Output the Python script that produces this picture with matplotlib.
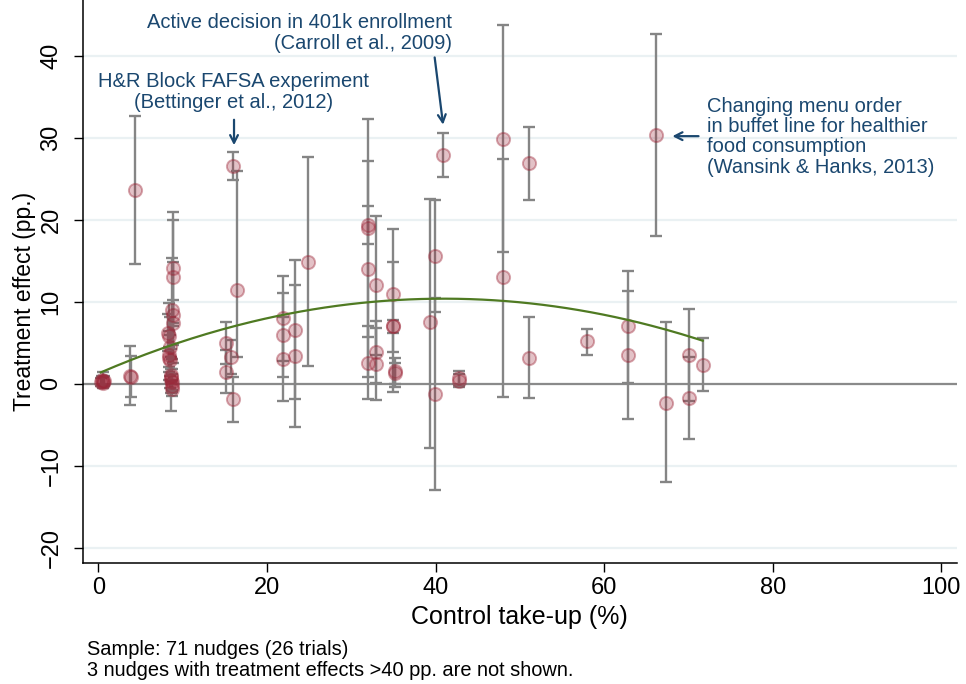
import numpy as np
import matplotlib
matplotlib.use("Agg")
import matplotlib.pyplot as plt

plt.rcParams['font.family'] = ['Liberation Sans', 'DejaVu Sans']

# Control take-up (%), treatment effect (pp.) and 95% CI bounds per nudge
take_up = [0.3, 0.5, 0.7, 0.6, 0.4,
           3.8, 3.9, 4.35,
           8.9, 8.9, 8.8, 8.9, 8.9, 8.4, 8.5, 8.4, 8.5, 8.6, 8.6, 8.7, 8.8, 8.4, 8.6, 8.3, 8.7,
           16.0, 16.4, 15.2, 15.7, 15.2, 16.0,
           21.9, 21.9, 21.9, 23.3, 23.3, 24.9,
           32.0, 32.0, 32.0, 32.0, 32.9, 32.9, 32.9, 35.0, 35.0, 35.0, 35.2, 35.2,
           39.3, 39.9, 39.9, 40.9, 42.8, 42.8,
           48.0, 48.0, 51.1, 51.1,
           58.0, 62.8, 62.8, 66.2, 67.4, 70.1, 70.1, 71.7]
effect = [0.2, 0.1, 0.4, 0.3, 0.5,
          1.0, 0.9, 23.6,
          14.1, 13.0, 9.0, 8.4, 7.4, 5.8, 4.5, 3.5, 2.9, 1.1, 0.5, -0.3, -0.6, 3.2, 0.9, 6.2, 0.2,
          26.6, 11.4, 5.0, 3.3, 1.5, -1.9,
          8.0, 6.0, 3.0, 6.6, 3.4, 14.9,
          19.4, 19.0, 14.0, 2.6, 12.0, 3.9, 2.4, 10.9, 7.0, 7.0, 1.6, 1.3,
          7.5, 15.6, -1.2, 27.9, 0.7, 0.4,
          29.8, 13.0, 26.9, 3.1,
          5.2, 7.1, 3.5, 30.3, -2.3, 3.5, -1.7, 2.3]
ci_low = [-0.3, -0.5, -0.2, -0.4, -0.3,
          -2.6, -1.6, 14.6,
          7.4, 7.0, 3.0, 2.5, 4.8, 1.5, 1.0, 0.5, -0.5, -1.1, -3.3, -1.0, -1.5, 2.0, 0.2, 4.0, -0.8,
          24.9, 3.3, 2.4, 1.2, -1.1, -4.6,
          2.8, 0.9, -2.1, -1.9, -5.2, 2.2,
          17.1, 5.7, 0.8, -1.9, 3.5, 0.1, -2.0, 3.9, -1.0, 6.2, -0.4, 0.0,
          -7.8, 8.8, -12.9, 25.2, -0.2, -0.4,
          16.1, -1.6, 22.4, -1.7,
          3.5, 0.1, -4.3, 18.0, -12.0, -2.1, -6.7, -0.9]
ci_high = [0.7, 0.8, 1.0, 1.5, 1.0,
           4.6, 3.4, 32.6,
           20.9, 20.0, 15.4, 14.9, 10.2, 9.8, 8.2, 6.5, 6.0, 3.3, 4.3, 1.8, 0.5, 4.5, 1.8, 8.5, 1.2,
           28.3, 25.9, 7.6, 5.4, 4.1, 0.8,
           13.2, 11.1, 8.1, 15.1, 12.0, 27.6,
           21.7, 32.3, 27.2, 7.1, 20.5, 7.7, 6.8, 18.9, 14.9, 7.8, 3.2, 2.6,
           22.6, 22.4, 10.5, 30.6, 1.6, 1.2,
           43.7, 27.4, 31.3, 8.1,
           6.7, 13.8, 11.3, 42.6, 7.5, 9.1, 3.3, 5.6]

# Quadratic fit: effect = c0 + c1*x + c2*x^2
fit_coef = [1.27, 0.445, -0.00543]

x_ticks = [0, 20, 40, 60, 80, 100]
y_ticks = [-20, -10, 0, 10, 20, 30, 40]

navy = '#1A476F'
grey = '#858585'

fig = plt.figure(figsize=(9.66, 6.84), dpi=100)
ax = fig.add_axes([82.7 / 966, 1 - 562.7 / 684, (957 - 82.7) / 966, 562.7 / 684])
ax.set_xlim(-1.85, 101.86)
ax.set_ylim(-21.8, 46.8)

for yt in y_ticks:
    ax.axhline(yt, color='#EAF1F3', lw=1.6, zorder=0)
ax.axhline(0, color='#8A8A8A', lw=1.6, zorder=1)

x = np.array(take_up)
y = np.array(effect)
lo = np.array(ci_low)
hi = np.array(ci_high)
ax.errorbar(x, y, yerr=[y - lo, hi - y], fmt='none', ecolor=grey, elinewidth=1.7,
            capsize=4.6, capthick=1.7, zorder=2)
ax.scatter(x, y, s=90, facecolor=(0.61, 0.14, 0.21, 0.28), edgecolor=(0.61, 0.14, 0.21, 0.40),
           linewidth=1.4, zorder=3)

xf = np.linspace(x.min(), x.max(), 200)
yf = fit_coef[0] + fit_coef[1] * xf + fit_coef[2] * xf ** 2
ax.plot(xf, yf, color='#4F7A22', lw=1.6, zorder=4)

for side in ['top', 'right']:
    ax.spines[side].set_visible(False)
for side in ['left', 'bottom']:
    ax.spines[side].set_linewidth(1.1)

ax.set_xticks(x_ticks)
ax.set_yticks(y_ticks)
ax.tick_params(axis='both', direction='out', length=6.5, width=1.0, labelsize=17)
ax.tick_params(axis='x', pad=4)
ax.tick_params(axis='y', pad=8)
for lab in ax.get_yticklabels():
    lab.set_rotation(90)
    lab.set_va('center')

fig.text(25 / 966, 1 - 301 / 684, 'Treatment effect (pp.)', rotation=90,
         ha='center', va='center', fontsize=16.5)
fig.text(519 / 966, 1 - 617 / 684, 'Control take-up (%)', ha='center', va='center', fontsize=18)

fig.text(87 / 966, 1 - 655 / 684, 'Sample: 71 nudges (26 trials)', ha='left',
         va='baseline', fontsize=14.4)
fig.text(87 / 966, 1 - 675.7 / 684, '3 nudges with treatment effects >40 pp. are not shown.',
         ha='left', va='baseline', fontsize=14.4)

arrow = dict(arrowstyle='->,head_length=0.55,head_width=0.28', color=navy, lw=1.6,
             shrinkA=0, shrinkB=0)

# Annotated studies
ax.text(41.96, 43.4, 'Active decision in 401k enrollment', ha='right', va='baseline',
        fontsize=14.5, color=navy)
ax.text(41.96, 40.85, '(Carroll et al., 2009)', ha='right', va='baseline',
        fontsize=14.5, color=navy)
ax.annotate('', xy=(40.9, 31.6), xytext=(39.9, 39.8), arrowprops=arrow)

ax.text(16.04, 36.16, 'H&R Block FAFSA experiment', ha='center', va='baseline',
        fontsize=14.5, color=navy)
ax.text(16.04, 33.66, '(Bettinger et al., 2012)', ha='center', va='baseline',
        fontsize=14.5, color=navy)
ax.annotate('', xy=(16.1, 29.1), xytext=(16.1, 32.2), arrowprops=arrow)

for i, line in enumerate(['Changing menu order', 'in buffet line for healthier',
                          'food consumption', '(Wansink & Hanks, 2013)']):
    ax.text(72.2, 33.09 - i * 2.44, line, ha='left', va='baseline', fontsize=14.5, color=navy)
ax.annotate('', xy=(68.1, 30.2), xytext=(71.2, 30.2), arrowprops=arrow)

fig.savefig('out.png', dpi=100)
